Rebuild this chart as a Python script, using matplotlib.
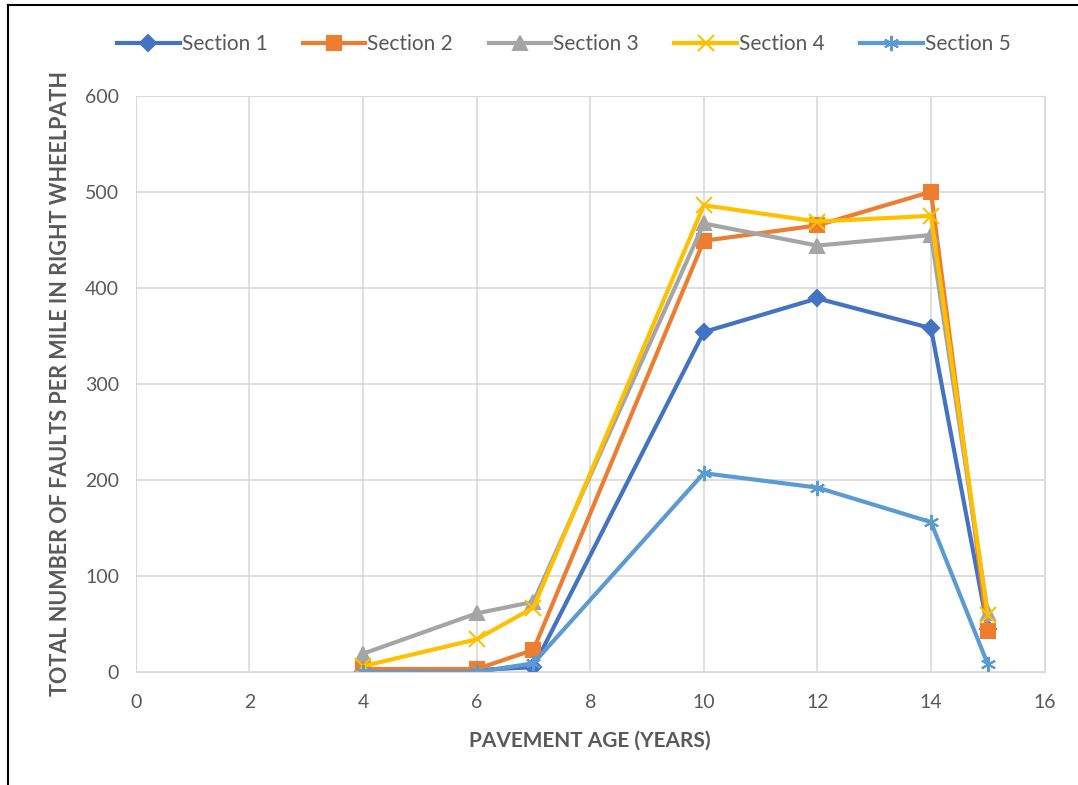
import matplotlib
matplotlib.use("Agg")
import matplotlib.pyplot as plt
from matplotlib.lines import Line2D

# Data
age = [4, 6, 7, 10, 12, 14, 15]
section_1 = [0, 2, 5, 354, 389, 358, 45]
section_2 = [3, 3, 23, 449, 465, 500, 43]
section_3 = [19, 61, 73, 467, 444, 455, 61]
section_4 = [6, 34, 67, 486, 469, 475, 59]
section_5 = [0, 0, 9, 207, 192, 156, 8]

names = ["Section 1", "Section 2", "Section 3", "Section 4", "Section 5"]
series = [section_1, section_2, section_3, section_4, section_5]
colors = ["#4472C4", "#ED7D31", "#A5A5A5", "#FFC000", "#5B9BD5"]
markers = ["D", "s", "^", "x", (6, 2, 0)]
msizes = [8, 10, 10, 11, 11]

plt.rcParams['font.family'] = ['Lato', 'DejaVu Sans']

fig = plt.figure(figsize=(10.78, 7.85), dpi=100)
ax = fig.add_axes([0.126, 0.144, 0.843, 0.734])

for name, vals, c, m, ms in zip(names, series, colors, markers, msizes):
    ax.plot(age, vals, color=c, lw=3, marker=m, markersize=ms,
            markeredgewidth=1.5, label=name)

ax.set_xlim(0, 16)
ax.set_ylim(0, 600)
ax.set_xticks(range(0, 17, 2))
ax.set_yticks(range(0, 601, 100))
ax.grid(True, color="#D9D9D9", lw=1.2)
ax.set_axisbelow(True)
for s in ax.spines.values():
    s.set_color("#D9D9D9")
ax.tick_params(length=0, labelsize=14, colors="#595959")
ax.tick_params(axis="x", pad=16)
ax.tick_params(axis="y", pad=12)

ax.set_xlabel("PAVEMENT AGE (YEARS)", fontsize=15, fontweight="bold",
              color="#595959", labelpad=14)
ax.set_ylabel("TOTAL NUMBER OF FAULTS PER MILE IN RIGHT WHEELPATH",
              fontsize=15.5, fontweight="bold", color="#595959", labelpad=10)

fig.legend(loc="upper center", bbox_to_anchor=(0.523, 0.98), ncol=5,
           frameon=False, fontsize=15, labelcolor="#595959",
           handlelength=3.0, columnspacing=1.7, handletextpad=0.1)

# black frame edges visible in the reference (left and top)
fig.add_artist(Line2D([0.0075, 0.0075], [0.0, 0.994], transform=fig.transFigure,
                      color="black", lw=1.5))
fig.add_artist(Line2D([0.0075, 1.0], [0.994, 0.994], transform=fig.transFigure,
                      color="black", lw=1.5))

fig.savefig("out.png", dpi=100)
